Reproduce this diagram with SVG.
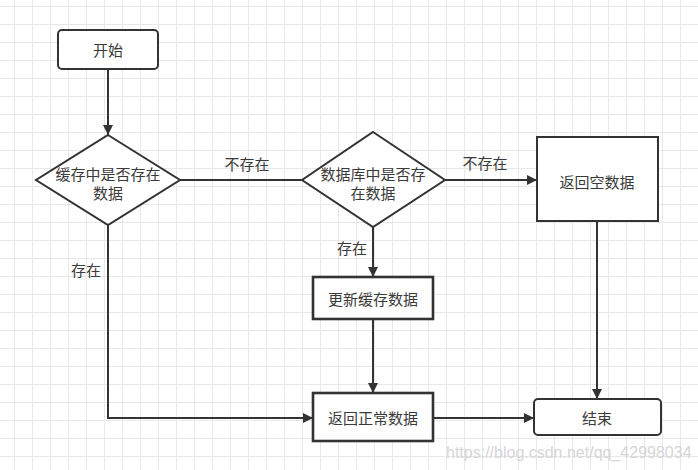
<svg xmlns="http://www.w3.org/2000/svg" width="698" height="470" viewBox="0 0 698 470">
<style>
.node{fill:#fff;stroke:#333;stroke-width:2}
.thick{stroke-width:2.6}
.t{font-family:"Noto Sans CJK SC","Microsoft YaHei",sans-serif;font-size:15px;fill:#3a3a3a;text-anchor:middle;dominant-baseline:central}
.edge{fill:none;stroke:#333;stroke-width:2}
.wm{font-family:"Liberation Sans",sans-serif;font-size:16px;fill:#d6d6d6}
</style>
<defs>
<pattern id="grid" patternUnits="userSpaceOnUse" x="14" y="6" width="18" height="18">
<path d="M0.5 0V18M0 0.5H18" stroke="#e8e8e8" stroke-width="1" fill="none"/>
</pattern>
<marker id="arr" viewBox="0 0 10 10" refX="10" refY="5" markerWidth="5" markerHeight="5" orient="auto" markerUnits="strokeWidth">
<path d="M0 0L10 5L0 10z" fill="#333"/>
</marker>
</defs>
<rect width="698" height="470" fill="#fff"/>
<rect width="698" height="470" fill="url(#grid)"/>

<g id="connectors">
<path class="edge" d="M108 69V135" marker-end="url(#arr)"/>
<path class="edge" d="M180 180H302"/>
<text class="t" x="247" y="163">不存在</text>
<path class="edge" d="M445 180H537" marker-end="url(#arr)"/>
<text class="t" x="485" y="162">不存在</text>
<path class="edge" d="M373 227V277" marker-end="url(#arr)"/>
<text class="t" x="352" y="247">存在</text>
<path class="edge" d="M108 225V418H313" marker-end="url(#arr)"/>
<text class="t" x="86" y="269">存在</text>
<path class="edge" d="M373 319V393" marker-end="url(#arr)"/>
<path class="edge" d="M433 418H534" marker-end="url(#arr)"/>
<path class="edge" d="M597 221V399" marker-end="url(#arr)"/>
</g>

<g id="start">
<rect class="node" x="58" y="30" width="100" height="39" rx="4"/>
<text class="t" x="108" y="49">开始</text>
</g>
<g id="cache-check">
<path class="node" d="M108 135L180 180L108 225L36 180Z"/>
<text class="t" x="108" y="173">缓存中是否存在</text>
<text class="t" x="108" y="192">数据</text>
</g>
<g id="db-check">
<path class="node" d="M373 132L445 180L373 227L302 180Z"/>
<text class="t" x="373" y="173">数据库中是否存</text>
<text class="t" x="373" y="192">在数据</text>
</g>
<g id="return-empty">
<rect class="node" x="537" y="137" width="121" height="84"/>
<text class="t" x="597" y="181">返回空数据</text>
</g>
<g id="update-cache">
<rect class="node thick" x="313" y="277" width="120" height="42"/>
<text class="t" x="373" y="298">更新缓存数据</text>
</g>
<g id="return-normal">
<rect class="node thick" x="313" y="393" width="120" height="48"/>
<text class="t" x="373" y="417">返回正常数据</text>
</g>
<g id="end">
<rect class="node" x="534" y="399" width="127" height="36" rx="4"/>
<text class="t" x="597" y="417">结束</text>
</g>
<text class="wm" x="446" y="458">https://blog.csdn.net/qq_42998034</text>
</svg>
